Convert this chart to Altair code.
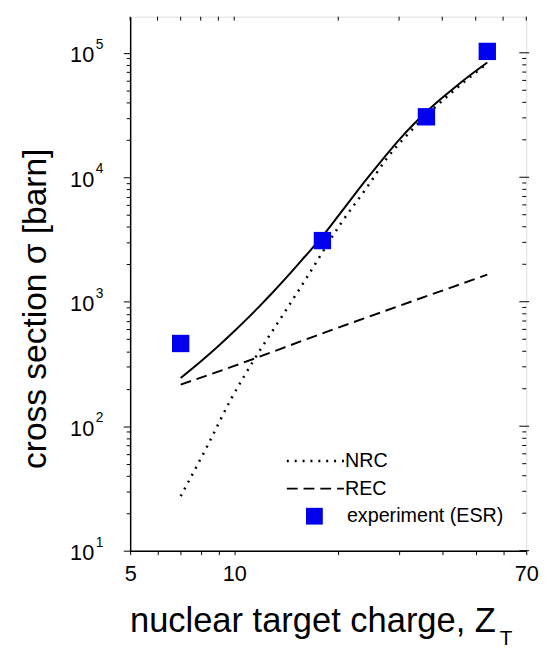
import altair as alt
import pandas as pd

# ---------------- data ----------------
exp_z = [7, 18, 36, 54]
exp_sigma = [462, 3100, 30600, 102600]

total_z = [7, 8, 9, 10, 11, 12, 13, 14, 16, 18, 21, 24, 27, 30, 33, 36, 40, 45, 54]
total_sigma = [244, 331, 441, 579, 749, 957, 1209, 1512, 2299, 3350, 5840, 9440,
               14130, 20000, 26550, 33570, 43450, 57000, 83560]

nrc_z = [7, 8.38, 9.78, 11.41, 13.9, 16.2, 20.2, 24.4, 27.5, 32, 43.7, 54]
nrc_sigma = [27.4, 70.2, 164, 341, 800, 1557, 4120, 8550, 13900, 22600, 51000, 82000]

rec_z = [7, 10, 17.3, 30, 54]
rec_sigma = [216, 305, 535, 925, 1650]

x_ticks = [5, 6, 7, 8, 9, 10, 20, 30, 40, 50, 60, 70]
x_labels = [5, 10, 70]
y_major = [10, 100, 1000, 10000, 100000]
y_exponents = ["1", "2", "3", "4", "5"]
y_minor = [20, 30, 40, 50, 60, 70, 80, 90,
           200, 300, 400, 500, 600, 700, 800, 900,
           2000, 3000, 4000, 5000, 6000, 7000, 8000, 9000,
           20000, 30000, 40000, 50000, 60000, 70000, 80000, 90000]
y_all = sorted(y_major + y_minor)

legend_labels = ["NRC", "REC", "experiment (ESR)"]

# ---------------- layout ----------------
W, H = 402, 542
FONT = "Liberation Sans"

xs = alt.Scale(type="log", domain=[5, 70], nice=False)
ys = alt.Scale(type="log", domain=[10, 195000], nice=False)

df_total = pd.DataFrame({"z": total_z, "s": total_sigma})
df_nrc = pd.DataFrame({"z": nrc_z, "s": nrc_sigma})
df_rec = pd.DataFrame({"z": rec_z, "s": rec_sigma})
df_exp = pd.DataFrame({"z": exp_z, "s": exp_sigma})
df_xt = pd.DataFrame({"z": x_ticks})
df_ymaj = pd.DataFrame({"s": y_major, "e": y_exponents})
df_ymin = pd.DataFrame({"s": y_minor})

major_test = "indexof([10,100,1000,10000,100000], datum.value) >= 0"
x_label_list = "[" + ",".join(str(v) for v in x_labels) + "]"

x_axis = alt.Axis(
    values=x_ticks,
    labelExpr="indexof(" + x_label_list + ", datum.value) >= 0 ? '' + datum.value : ''",
    tickSize=4, tickColor="black", tickWidth=1,
    labelFont=FONT, labelFontSize=22, labelColor="black", labelPadding=9,
    labelFlush=False, labelOverlap=False, grid=False,
    domain=True, domainColor="black", domainWidth=1.5,
    title="nuclear target charge, Z", titleFont=FONT, titleFontSize=35,
    titleFontWeight="normal", titleColor="black",
    titleX=185, titleY=82, titleAlign="center", titleBaseline="alphabetic",
)
y_axis = alt.Axis(
    values=y_all,
    labelExpr=major_test + " ? '10' : ''",
    tickSize={"condition": {"test": major_test, "value": 7}, "value": 4},
    tickColor="black", tickWidth=1,
    labelFont=FONT, labelFontSize=22, labelColor="black", labelPadding=30,
    labelBaseline="middle", labelOffset=2, labelOverlap=False, grid=False,
    labelFlush=False,
    domain=True, domainColor="black", domainWidth=1.5,
    title="cross section σ [barn]", titleFont=FONT, titleFontSize=34,
    titleFontWeight="normal", titleColor="black",
    titleX=-86, titleY=296, titleAlign="center", titleBaseline="alphabetic",
    titleAngle=270,
)

X = alt.X("z:Q", scale=xs, axis=x_axis)
Y = alt.Y("s:Q", scale=ys, axis=y_axis)

total = alt.Chart(df_total).mark_line(color="black", strokeWidth=2, interpolate="monotone").encode(x=X, y=Y)
nrc = alt.Chart(df_nrc).mark_line(
    color="black", strokeWidth=2.5, strokeDash=[2, 6], interpolate="monotone"
).encode(x=X, y=Y)
rec = alt.Chart(df_rec).mark_line(
    color="black", strokeWidth=2, strokeDash=[11, 6], interpolate="monotone"
).encode(x=X, y=Y)
exp = alt.Chart(df_exp).mark_square(size=310, color="#0000ee", opacity=1).encode(x=X, y=Y)

# mirrored ticks on top and right
top_ticks = alt.Chart(df_xt).mark_rule(color="black", strokeWidth=1).encode(
    x=X, y=alt.value(0), y2=alt.value(4)
)
right_major = alt.Chart(df_ymaj).mark_rule(color="black", strokeWidth=1).encode(
    y=Y, x=alt.value(W - 7), x2=alt.value(W + 3)
)
right_minor = alt.Chart(df_ymin).mark_rule(color="black", strokeWidth=1).encode(
    y=Y, x=alt.value(W - 4), x2=alt.value(W)
)
exponents = alt.Chart(df_ymaj).mark_text(
    font=FONT, fontSize=14, color="black", align="left", baseline="alphabetic", dy=-4
).encode(y=Y, x=alt.value(-35), text="e:N")

# x-title subscript
sub_t = alt.Chart(pd.DataFrame({"t": ["T"]})).mark_text(
    font=FONT, fontSize=21, color="black", align="left", baseline="alphabetic"
).encode(x=alt.value(375), y=alt.value(638), text="t:N")

# legend
leg_nrc = alt.Chart(pd.DataFrame({"l": [legend_labels[0]]})).mark_rule(
    color="black", strokeWidth=2.5, strokeDash=[2, 6]
).encode(x=alt.value(159), x2=alt.value(217), y=alt.value(451))
leg_rec = alt.Chart(pd.DataFrame({"l": [legend_labels[1]]})).mark_rule(
    color="black", strokeWidth=2, strokeDash=[11, 6]
).encode(x=alt.value(159), x2=alt.value(217), y=alt.value(479))
leg_sq = alt.Chart(pd.DataFrame({"l": [legend_labels[2]]})).mark_square(
    size=290, color="#0000ee", opacity=1
).encode(x=alt.value(187), y=alt.value(507))
leg_t1 = alt.Chart(pd.DataFrame({"l": [legend_labels[0]]})).mark_text(
    font=FONT, fontSize=20, color="black", align="left", baseline="middle"
).encode(x=alt.value(218), y=alt.value(451), text="l:N")
leg_t2 = alt.Chart(pd.DataFrame({"l": [legend_labels[1]]})).mark_text(
    font=FONT, fontSize=20, color="black", align="left", baseline="middle"
).encode(x=alt.value(218), y=alt.value(479), text="l:N")
leg_t3 = alt.Chart(pd.DataFrame({"l": [legend_labels[2]]})).mark_text(
    font=FONT, fontSize=20, color="black", align="left", baseline="middle"
).encode(x=alt.value(220), y=alt.value(507), text="l:N")

chart = alt.layer(
    total, nrc, rec, exp, top_ticks, right_major, right_minor, exponents, sub_t,
    leg_nrc, leg_rec, leg_sq, leg_t1, leg_t2, leg_t3,
).properties(
    width=W, height=H,
    autosize=alt.AutoSizeParams(type="none"),
    padding={"left": 124, "top": 4, "right": 16, "bottom": 97},
).configure_view(
    stroke="black", strokeWidth=1.5
).configure(background="white")

chart.save("out.html", embed_options={"renderer": "svg", "actions": False})
